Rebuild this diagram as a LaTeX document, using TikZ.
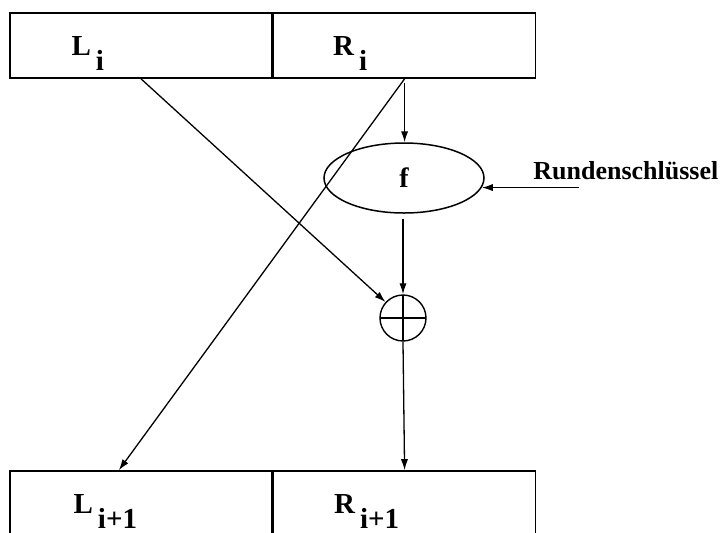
\documentclass[tikz,border=0pt]{standalone}
\usepackage{fontspec}
\setmainfont{Liberation Serif}
\usepackage{tikz}
\usetikzlibrary{arrows.meta,calc,positioning,shapes.geometric}
\tikzset{
  halb/.style={
    draw,
    line width=0.8pt,
    minimum width=131pt,
    minimum height=32.5pt,
    inner sep=0pt
  },
  lbl/.style={
    anchor=base west,
    inner sep=0pt,
    font=\bfseries\fontsize{14.5}{17}\selectfont
  },
  fkt/.style={
    ellipse,
    draw,
    line width=0.75pt,
    minimum width=80pt,
    minimum height=35pt,
    inner sep=0pt,
    font=\bfseries\fontsize{14}{16}\selectfont
  },
  xorknoten/.style={
    circle,
    draw,
    line width=0.7pt,
    minimum size=23pt,
    inner sep=0pt,
    path picture={
      \draw[line width=0.8pt] (path picture bounding box.north) -- (path picture bounding box.south)
        (path picture bounding box.west) -- (path picture bounding box.east);
    }
  },
  pfeil/.style={
    -{Latex[length=5.5pt,width=3.6pt]},
    line width=0.65pt
  }
}
\newcommand{\blk}[2]{#1\hspace{2.5pt}\raisebox{-7.5pt}{#2}}

\begin{document}
\begin{tikzpicture}[x=0.5pt,y=-0.5pt]
\clip (0,0) rectangle (720,532);
% Eingabeblock
\node[halb] (Li) at (141,45.5) {};
\node[halb,right=0pt of Li] (Ri) {};
\node[lbl] (tLi) at ($(Li.west)+(62,9.5)$) {\blk{L}{i}};
\node[lbl] (tRi) at ($(Ri.west)+(60,9.5)$) {\blk{R}{i}};
% Rundenfunktion
\node[fkt] (f) at (404,178) {\raisebox{-2.5pt}{f}\hspace{7pt}};
\node[xorknoten] (xor) at (403,318) {};
\coordinate (key) at ([xshift=48.5pt]f.-7);
\node[lbl,font=\bfseries\fontsize{13}{16}\selectfont] (rs) at (533,179) {Rundenschlüssel};
% Ausgabeblock
\node[halb] (Lj) at (141,503.5) {};
\node[halb,right=0pt of Lj] (Rj) {};
\node[lbl] (tLj) at ($(Lj.west)+(64,9.5)$) {\blk{L}{i+1}};
\node[lbl] (tRj) at ($(Rj.west)+(61,9.5)$) {\blk{R}{i+1}};
\coordinate (ljin) at ($(Lj.north west)!0.416!(Lj.north east)$);
% Verbindungen
\draw[pfeil,shorten <=2pt] (Ri.south) -- (Ri.south |- f.north);
\draw[pfeil,shorten <=2.5pt] (f.south -| xor.north) -- (xor.north);
\draw[pfeil] (xor.south) -- (Rj.north);
\draw[pfeil] (Li.south) -- (xor);
\draw[pfeil] (Ri.south) -- (ljin);
\draw[pfeil] (key) -- (f.-7);
\end{tikzpicture}
\end{document}
